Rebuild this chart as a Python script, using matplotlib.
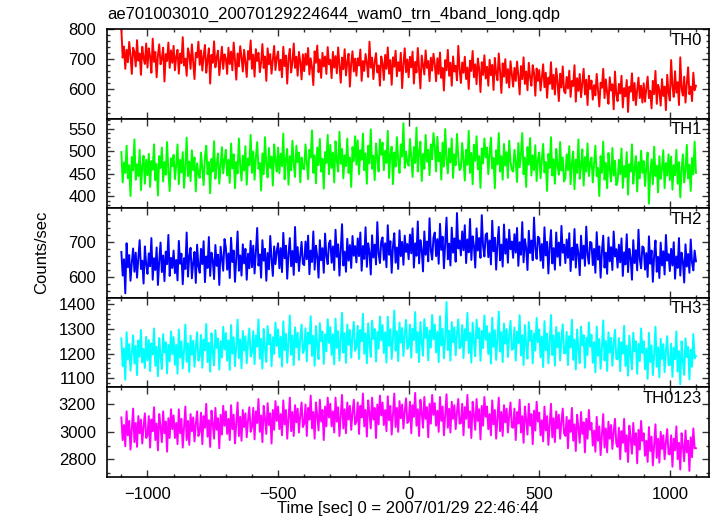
import numpy as np
import matplotlib
matplotlib.use("Agg")
import matplotlib.pyplot as plt
from matplotlib.ticker import MultipleLocator

plt.rcParams['font.family'] = ['Liberation Sans', 'DejaVu Sans']

# light curves, 5 s bins starting at -1100 s (one row = 100 s)
t_start = -1100
t_bin = 5

th0 = [800, 705, 742, 668, 731, 690, 757, 712, 651, 738, 724, 676, 763, 695, 719, 648, 741, 703, 684, 752,
       672, 736, 709, 655, 768, 691, 724, 640, 713, 749, 683, 702, 738, 626, 717, 694, 755, 671, 729, 688,
       744, 663, 708, 731, 652, 719, 687, 773, 679, 702, 645, 736, 715, 668, 749, 692, 634, 721, 706, 758,
       681, 729, 662, 711, 747, 655, 698, 736, 619, 714, 688, 759, 673, 705, 728, 647, 694, 741, 668, 716,
       702, 651, 738, 684, 725, 663, 755, 697, 632, 719, 676, 743, 708, 659, 731, 690, 641, 727, 699, 762,
       668, 715, 642, 733, 694, 721, 657, 688, 750, 671, 709, 628, 736, 683, 717, 652, 699, 744, 664, 706,
       725, 663, 698, 640, 741, 677, 712, 619, 703, 734, 656, 689, 752, 671, 708, 645, 724, 691, 633, 716,
       660, 718, 681, 737, 649, 703, 672, 614, 726, 688, 745, 657, 699, 638, 721, 676, 709, 651, 740, 683,
       698, 637, 724, 672, 710, 653, 739, 681, 622, 705, 667, 733, 646, 691, 718, 609, 687, 726, 659, 702,
       645, 703, 679, 732, 628, 694, 661, 717, 688, 641, 758, 672, 705, 634, 691, 720, 656, 679, 612, 709,
       687, 631, 714, 668, 739, 652, 697, 615, 706, 675, 728, 643, 690, 661, 721, 604, 683, 736, 657, 699,
       640, 708, 673, 725, 619, 691, 656, 737, 666, 603, 712, 680, 649, 729, 671, 694, 627, 705, 662, 718,
       684, 627, 703, 651, 722, 638, 671, 596, 697, 663, 731, 645, 688, 612, 709, 659, 678, 630, 744, 667,
       621, 689, 655, 708, 634, 672, 601, 695, 661, 727, 640, 683, 617, 702, 668, 591, 690, 648, 713, 636,
       675, 612, 698, 647, 681, 598, 704, 653, 630, 719, 661, 588, 686, 642, 700, 621, 667, 606, 693, 650,
       609, 671, 628, 692, 645, 583, 677, 634, 706, 618, 659, 597, 688, 640, 612, 680, 655, 579, 669, 628,
       664, 596, 641, 683, 607, 655, 572, 639, 618, 690, 601, 648, 583, 669, 625, 561, 652, 606, 676, 594,
       587, 641, 603, 662, 575, 628, 611, 680, 559, 637, 595, 651, 574, 620, 668, 583, 632, 548, 645, 601,
       629, 566, 614, 580, 651, 597, 543, 622, 605, 668, 571, 633, 589, 552, 640, 596, 617, 534, 659, 583,
       561, 618, 586, 645, 540, 604, 577, 631, 525, 609, 592, 653, 563, 621, 548, 598, 639, 571, 612, 556,
       620, 559, 603, 642, 571, 595, 537, 628, 584, 661, 552, 615, 597, 546, 634, 578, 609, 531, 648, 590,
       563, 697, 612, 575, 660, 589, 624, 548, 706, 601, 579, 642, 556, 618, 673, 584, 609, 561, 655, 597,
       612]

th1 = [498, 431, 475, 452, 512, 440, 469, 401, 487, 458, 526, 437, 471, 445, 503, 414, 466, 490, 428, 481,
       447, 494, 421, 478, 459, 515, 436, 472, 402, 489, 463, 508, 433, 476, 448, 520, 455, 412, 484, 467,
       492, 438, 470, 515, 427, 481, 453, 498, 419, 464, 530, 445, 477, 434, 502, 458, 486, 411, 473, 449,
       441, 497, 462, 425, 488, 512, 449, 476, 407, 483, 455, 522, 439, 470, 495, 428, 466, 509, 451, 480,
       503, 446, 481, 430, 517, 462, 493, 418, 476, 451, 528, 468, 435, 490, 457, 511, 426, 484, 469, 536,
       452, 499, 437, 486, 520, 461, 474, 413, 495, 449, 531, 470, 442, 507, 463, 488, 424, 515, 478, 455,
       508, 451, 494, 467, 539, 438, 482, 505, 426, 489, 458, 523, 471, 443, 512, 476, 497, 431, 486, 462,
       460, 515, 477, 438, 503, 486, 546, 452, 491, 429, 508, 469, 527, 455, 483, 417, 498, 474, 536, 449,
       514, 463, 497, 431, 522, 480, 455, 543, 472, 505, 440, 491, 467, 528, 452, 486, 421, 509, 478, 533,
       470, 524, 449, 502, 481, 539, 458, 495, 428, 512, 473, 548, 461, 490, 436, 517, 484, 455, 526, 492,
       519, 458, 501, 474, 545, 441, 493, 510, 427, 497, 466, 531, 480, 452, 515, 488, 562, 463, 499, 475,
       468, 527, 486, 443, 509, 474, 552, 455, 498, 521, 434, 494, 461, 536, 477, 503, 447, 515, 482, 540,
       510, 455, 532, 478, 497, 437, 519, 466, 549, 484, 451, 506, 475, 528, 441, 493, 469, 538, 487, 458,
       463, 518, 481, 435, 503, 470, 545, 452, 496, 427, 514, 479, 533, 460, 489, 419, 506, 473, 528, 486,
       508, 449, 494, 530, 462, 485, 418, 502, 471, 540, 455, 489, 437, 516, 468, 498, 441, 523, 476, 459,
       455, 503, 477, 432, 518, 464, 492, 540, 449, 486, 421, 509, 470, 529, 446, 491, 458, 513, 434, 482,
       497, 440, 483, 516, 453, 476, 412, 494, 463, 531, 446, 482, 428, 505, 469, 448, 520, 457, 486, 433,
       441, 493, 458, 511, 427, 474, 499, 416, 481, 452, 526, 439, 466, 504, 424, 487, 455, 517, 445, 473,
       486, 431, 470, 512, 445, 463, 401, 489, 452, 521, 437, 474, 418, 496, 458, 433, 507, 446, 479, 425,
       432, 481, 449, 506, 419, 467, 443, 498, 404, 471, 455, 515, 428, 462, 489, 411, 476, 440, 501, 452,
       478, 423, 466, 497, 384, 451, 482, 427, 510, 445, 468, 409, 489, 439, 461, 502, 418, 474, 446, 493,
       436, 488, 415, 469, 447, 503, 428, 476, 398, 460, 493, 431, 457, 514, 440, 470, 412, 485, 449, 521,
       452]

th2 = [672, 604, 651, 553, 697, 628, 663, 589, 641, 682, 615, 670, 598, 655, 706, 623, 647, 581, 688, 636,
       609, 668, 631, 712, 592, 654, 620, 685, 577, 646, 699, 614, 662, 588, 673, 637, 721, 603, 655, 626,
       676, 611, 649, 590, 704, 638, 667, 579, 654, 623, 728, 601, 660, 684, 596, 641, 672, 583, 693, 630,
       612, 681, 637, 703, 585, 659, 626, 715, 603, 670, 648, 594, 692, 632, 664, 577, 687, 653, 618, 709,
       685, 621, 668, 597, 713, 643, 676, 586, 655, 731, 618, 662, 604, 694, 639, 681, 592, 667, 625, 704,
       628, 690, 610, 672, 741, 633, 665, 598, 706, 647, 681, 589, 669, 622, 718, 651, 603, 688, 637, 675,
       697, 625, 683, 614, 727, 654, 690, 595, 668, 712, 631, 675, 606, 744, 642, 686, 617, 661, 701, 638,
       634, 702, 651, 719, 608, 676, 643, 731, 621, 690, 659, 598, 706, 648, 683, 612, 725, 660, 637, 697,
       705, 641, 688, 620, 736, 658, 694, 604, 681, 752, 633, 673, 615, 710, 647, 692, 626, 718, 661, 689,
       642, 711, 660, 728, 618, 689, 652, 743, 629, 697, 671, 607, 720, 656, 693, 636, 758, 667, 640, 702,
       714, 649, 697, 628, 749, 664, 703, 612, 688, 726, 641, 685, 623, 734, 660, 701, 635, 719, 672, 695,
       651, 722, 668, 740, 627, 697, 661, 760, 639, 706, 678, 616, 731, 664, 702, 645, 769, 676, 650, 713,
       728, 660, 709, 638, 753, 678, 716, 625, 699, 771, 651, 696, 633, 742, 670, 711, 644, 784, 682, 705,
       662, 731, 677, 749, 640, 708, 671, 767, 649, 717, 690, 627, 740, 676, 712, 655, 778, 688, 659, 722,
       726, 657, 705, 636, 762, 674, 713, 621, 697, 744, 648, 693, 630, 751, 667, 709, 641, 736, 680, 702,
       655, 723, 670, 741, 632, 700, 664, 758, 642, 709, 683, 620, 733, 669, 705, 648, 771, 681, 652, 716,
       712, 647, 695, 626, 743, 662, 701, 610, 686, 735, 639, 683, 621, 728, 658, 699, 633, 747, 670, 693,
       640, 708, 655, 726, 617, 684, 649, 738, 627, 694, 668, 605, 719, 653, 690, 632, 745, 664, 638, 701,
       698, 634, 681, 612, 729, 650, 688, 598, 674, 719, 627, 670, 609, 714, 645, 686, 620, 731, 659, 680,
       627, 693, 642, 711, 603, 671, 636, 723, 614, 681, 655, 592, 706, 640, 677, 619, 736, 650, 625, 688,
       684, 621, 669, 600, 717, 638, 676, 586, 662, 705, 615, 658, 597, 699, 633, 674, 607, 721, 647, 666,
       617, 681, 633, 700, 595, 659, 626, 712, 604, 670, 645, 584, 694, 630, 666, 612, 708, 641, 619, 676,
       645]

th3 = [1262, 1148, 1221, 1093, 1287, 1176, 1238, 1130, 1205, 1274, 1159, 1231, 1112, 1253, 1187, 1296, 1164, 1219, 1141, 1268,
       1173, 1255, 1128, 1241, 1196, 1302, 1150, 1228, 1107, 1263, 1189, 1137, 1279, 1204, 1246, 1119, 1235, 1168, 1290, 1197,
       1267, 1154, 1236, 1118, 1298, 1183, 1249, 1139, 1212, 1318, 1166, 1241, 1125, 1273, 1195, 1252, 1146, 1229, 1287, 1171,
       1190, 1276, 1142, 1257, 1213, 1320, 1165, 1244, 1126, 1283, 1207, 1152, 1295, 1223, 1261, 1134, 1250, 1184, 1309, 1216,
       1283, 1171, 1254, 1133, 1316, 1199, 1266, 1148, 1230, 1338, 1181, 1258, 1140, 1292, 1212, 1270, 1160, 1245, 1302, 1188,
       1204, 1291, 1157, 1273, 1228, 1339, 1179, 1260, 1139, 1300, 1222, 1166, 1312, 1238, 1277, 1148, 1266, 1198, 1326, 1231,
       1298, 1185, 1269, 1147, 1331, 1214, 1281, 1162, 1244, 1355, 1195, 1273, 1153, 1307, 1226, 1285, 1174, 1260, 1318, 1202,
       1216, 1303, 1168, 1285, 1240, 1352, 1190, 1272, 1150, 1312, 1233, 1177, 1324, 1250, 1289, 1158, 1278, 1209, 1340, 1243,
       1308, 1194, 1279, 1156, 1342, 1223, 1291, 1171, 1254, 1366, 1204, 1283, 1162, 1318, 1236, 1296, 1183, 1270, 1329, 1211,
       1226, 1313, 1178, 1296, 1250, 1362, 1199, 1282, 1160, 1323, 1243, 1186, 1334, 1259, 1300, 1167, 1288, 1219, 1351, 1253,
       1316, 1202, 1287, 1163, 1350, 1231, 1299, 1178, 1262, 1375, 1212, 1291, 1169, 1326, 1244, 1304, 1190, 1278, 1337, 1219,
       1231, 1318, 1183, 1301, 1255, 1369, 1204, 1287, 1165, 1328, 1248, 1191, 1340, 1264, 1305, 1172, 1294, 1224, 1357, 1258,
       1318, 1204, 1289, 1165, 1352, 1233, 1301, 1180, 1264, 1410, 1214, 1293, 1171, 1328, 1246, 1306, 1192, 1280, 1339, 1221,
       1229, 1316, 1181, 1299, 1253, 1366, 1202, 1285, 1163, 1326, 1246, 1189, 1338, 1262, 1303, 1170, 1292, 1222, 1355, 1256,
       1312, 1198, 1283, 1159, 1346, 1227, 1295, 1174, 1258, 1371, 1208, 1287, 1165, 1322, 1240, 1300, 1186, 1274, 1333, 1215,
       1219, 1306, 1171, 1289, 1243, 1356, 1192, 1275, 1153, 1316, 1236, 1179, 1328, 1252, 1293, 1160, 1282, 1212, 1345, 1246,
       1298, 1184, 1269, 1145, 1332, 1213, 1281, 1160, 1244, 1357, 1194, 1273, 1151, 1308, 1226, 1286, 1172, 1260, 1319, 1201,
       1201, 1288, 1153, 1271, 1225, 1338, 1174, 1257, 1135, 1298, 1218, 1161, 1310, 1234, 1275, 1142, 1264, 1194, 1327, 1228,
       1276, 1162, 1247, 1123, 1310, 1191, 1259, 1138, 1222, 1335, 1172, 1251, 1129, 1286, 1204, 1264, 1150, 1238, 1297, 1179,
       1176, 1263, 1128, 1246, 1200, 1313, 1149, 1232, 1110, 1273, 1193, 1136, 1285, 1209, 1250, 1117, 1239, 1169, 1302, 1203,
       1250, 1136, 1221, 1097, 1284, 1165, 1233, 1112, 1196, 1309, 1146, 1225, 1103, 1260, 1178, 1238, 1124, 1212, 1271, 1153,
       1153, 1240, 1105, 1223, 1177, 1290, 1126, 1209, 1075, 1250, 1170, 1113, 1262, 1186, 1227, 1094, 1216, 1146, 1279, 1180,
       1190]

th0123 = [3105, 2940, 3050, 2895, 3150, 2975, 3080, 2870, 3025, 3170, 2925, 3065, 2890, 3115, 2990, 3090, 2915, 3040, 3135, 2955,
          2975, 3115, 2885, 3090, 3005, 3180, 2940, 3060, 2865, 3130, 3035, 2925, 3150, 2990, 3075, 2855, 3100, 2955, 3165, 3020,
          3120, 2955, 3065, 2910, 3165, 2990, 3095, 2885, 3040, 3185, 2940, 3080, 2905, 3130, 3005, 3105, 2930, 3055, 3150, 2970,
          3000, 3140, 2910, 3115, 3030, 3205, 2965, 3085, 2890, 3155, 3060, 2950, 3175, 3015, 3100, 2880, 3125, 2980, 3190, 3045,
          3150, 2985, 3095, 2940, 3195, 3020, 3125, 2915, 3070, 3215, 2970, 3110, 2935, 3160, 3035, 3135, 2960, 3085, 3180, 3000,
          3035, 3175, 2945, 3150, 3065, 3240, 3000, 3120, 2925, 3190, 3095, 2985, 3210, 3050, 3135, 2915, 3160, 3015, 3225, 3080,
          3185, 3020, 3130, 2975, 3230, 3055, 3160, 2950, 3105, 3250, 3005, 3145, 2970, 3195, 3070, 3170, 2995, 3120, 3215, 3035,
          3060, 3200, 2970, 3175, 3090, 3265, 3025, 3145, 2950, 3215, 3120, 3010, 3235, 3075, 3160, 2940, 3185, 3040, 3250, 3105,
          3205, 3040, 3150, 2995, 3250, 3075, 3180, 2970, 3125, 3270, 3025, 3165, 2990, 3215, 3090, 3190, 3015, 3140, 3235, 3055,
          3075, 3215, 2985, 3190, 3105, 3280, 3040, 3160, 2965, 3230, 3135, 3025, 3250, 3090, 3175, 2955, 3200, 3055, 3265, 3120,
          3215, 3050, 3160, 3005, 3260, 3085, 3190, 2980, 3135, 3280, 3035, 3175, 3000, 3225, 3100, 3200, 3025, 3150, 3245, 3065,
          3080, 3220, 2990, 3195, 3110, 3285, 3045, 3165, 2970, 3235, 3140, 3030, 3255, 3095, 3180, 2960, 3205, 3060, 3270, 3125,
          3210, 3045, 3155, 3000, 3255, 3080, 3185, 2975, 3130, 3275, 3030, 3170, 2995, 3220, 3095, 3195, 3020, 3145, 3240, 3060,
          3065, 3205, 2975, 3180, 3095, 3270, 3030, 3150, 2955, 3220, 3125, 3015, 3240, 3080, 3165, 2945, 3190, 3045, 3255, 3110,
          3185, 3020, 3130, 2975, 3230, 3055, 3160, 2950, 3105, 3250, 3005, 3145, 2970, 3195, 3070, 3170, 2995, 3120, 3215, 3035,
          3030, 3170, 2940, 3145, 3060, 3235, 2995, 3115, 2920, 3185, 3090, 2980, 3205, 3045, 3130, 2910, 3155, 3010, 3220, 3075,
          3140, 2975, 3085, 2930, 3185, 3010, 3115, 2905, 3060, 3205, 2960, 3100, 2925, 3150, 3025, 3125, 2950, 3075, 3170, 2990,
          2970, 3110, 2880, 3085, 3000, 3175, 2935, 3055, 2860, 3125, 3030, 2920, 3145, 2985, 3070, 2850, 3095, 2950, 3160, 3015,
          3065, 2900, 3010, 2855, 3110, 2935, 3040, 2830, 2985, 3130, 2885, 3025, 2850, 3075, 2950, 3050, 2875, 3000, 3095, 2915,
          2890, 3030, 2800, 3005, 2920, 3095, 2855, 2975, 2780, 3045, 2950, 2840, 3065, 2905, 2990, 2770, 3015, 2870, 3080, 2935,
          2990, 2825, 2935, 2780, 3035, 2860, 2965, 2755, 2910, 3055, 2810, 2950, 2775, 3000, 2875, 2975, 2800, 2925, 3020, 2840,
          2835, 2975, 2745, 2950, 2865, 3040, 2800, 2920, 2725, 2990, 2895, 2785, 3010, 2850, 2935, 2715, 2960, 2815, 3025, 2880,
          2880]

series = [th0, th1, th2, th3, th0123]
names = ['TH0', 'TH1', 'TH2', 'TH3', 'TH0123']
colors = ['#ff0000', '#00ff00', '#0000ff', '#00ffff', '#ff00ff']
ylims = [(503, 800), (374, 572), (540, 798), (1062, 1427), (2670, 3325)]
ymajor = [100, 50, 100, 100, 200]
yminor = [20, 10, 20, 20, 100]

fig = plt.figure(figsize=(7.17, 5.16), dpi=100)
left, right = 107 / 717, 709 / 717
top, bottom = 1 - 29 / 516, 1 - 477 / 516
h = (top - bottom) / 5

for i in range(5):
    ax = fig.add_axes([left, top - (i + 1) * h, right - left, h])
    y = np.array(series[i])
    t = t_start + t_bin * np.arange(len(y))
    ax.plot(t, y, color=colors[i], lw=1.4)
    ax.set_xlim(-1155, 1150)
    ax.set_ylim(*ylims[i])
    ax.xaxis.set_major_locator(MultipleLocator(500))
    ax.xaxis.set_minor_locator(MultipleLocator(100))
    ax.yaxis.set_major_locator(MultipleLocator(ymajor[i]))
    ax.yaxis.set_minor_locator(MultipleLocator(yminor[i]))
    ax.tick_params(which='both', direction='in', top=True, right=True, width=1.0,
                   labelsize=12, color='#333333')
    ax.tick_params(which='major', length=5)
    ax.tick_params(which='minor', length=2.5)
    ax.tick_params(axis='y', pad=8)
    ax.tick_params(axis='x', pad=7)
    for s in ax.spines.values():
        s.set_linewidth(1.2)
        s.set_zorder(3)
    if i < 4:
        ax.tick_params(labelbottom=False)
    ax.text(0.988, 0.96, names[i], transform=ax.transAxes, ha='right', va='top', fontsize=12)

fig.text(107 / 717, 1 - 14 / 516, 'ae701003010_20070129224644_wam0_trn_4band_long.qdp',
         ha='left', va='center', fontsize=12)
fig.text(408 / 717, 1 - 508 / 516, 'Time [sec] 0 = 2007/01/29 22:46:44',
         ha='center', va='center', fontsize=12)
fig.text(42 / 717, 1 - 252 / 516, 'Counts/sec', rotation=90, ha='center', va='center', fontsize=12)

fig.savefig('out.png', dpi=100)
